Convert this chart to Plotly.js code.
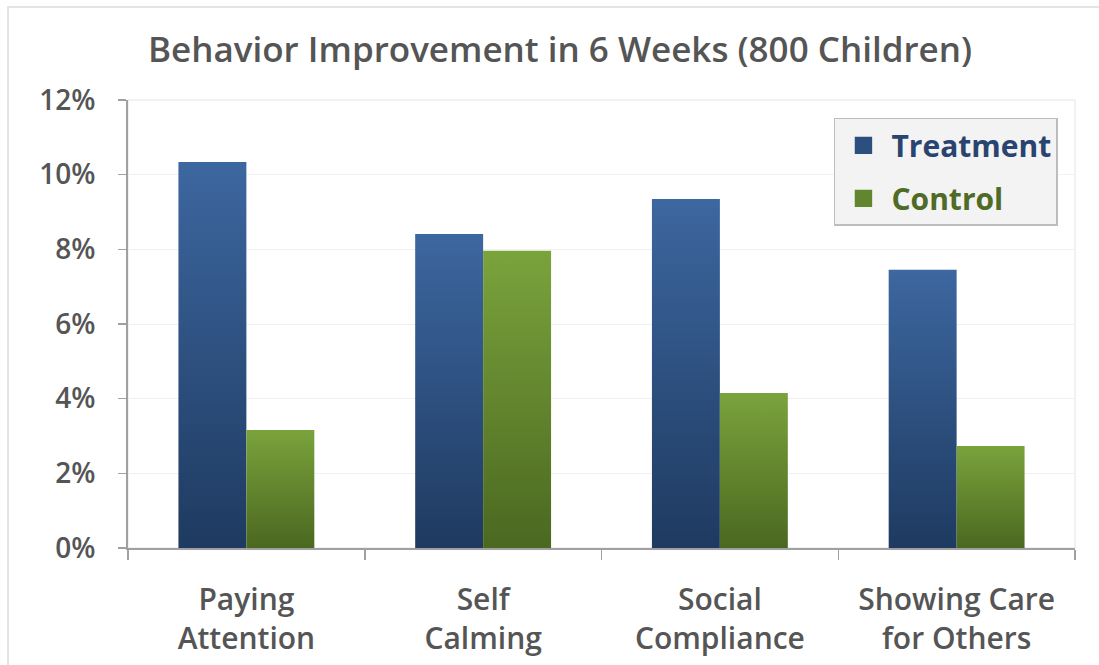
<!DOCTYPE html>
<html>
<head>
<meta charset="utf-8">
<script src="https://cdn.plot.ly/plotly-3.0.1.min.js"></script>
<style>html,body{margin:0;padding:0;background:#fff;}#chart{width:1099px;height:665px;}</style>
</head>
<body>
<div id="chart"></div>
<script>
const categories = ["Paying<br>Attention", "Self<br>Calming", "Social<br>Compliance", "Showing Care<br>for Others"];
const seriesNames = ["Treatment", "Control"];
const treatmentValues = [0.1034, 0.0841, 0.0935, 0.0745];
const controlValues = [0.0316, 0.0796, 0.0415, 0.0273];
const yTickValues = [0, 0.02, 0.04, 0.06, 0.08, 0.10, 0.12];

const baseColors = ["#2c4f80", "#62862e"];
const textColors = ["#2a4470", "#4f6b25"];
const gradStops = [["#3d67a0", "#1e3a60"], ["#7aa33c", "#4b6820"]];

const font = "'Open Sans', 'DejaVu Sans', sans-serif";

const seriesValues = [treatmentValues, controlValues];
const traces = seriesValues.map((vals, i) => ({
  type: "bar",
  x: categories,
  y: vals,
  name: '<span style="color:' + textColors[i] + '">' + seriesNames[i] + '</span>',
  legendgroup: "g" + i,
  marker: { color: baseColors[i], line: { width: 0 } },
  hoverinfo: "none"
}));

const layout = {
  width: 1099, height: 665,
  paper_bgcolor: "#ffffff", plot_bgcolor: "#ffffff",
  margin: { l: 128, r: 24, t: 100, b: 117 },
  barmode: "group",
  bargap: 0.426, bargroupgap: 0,
  title: {
    text: "Behavior Improvement in 6 Weeks (800 Children)",
    font: { family: font, size: 35, color: "#555555", weight: 600 },
    x: 0.5096, xref: "container", xanchor: "center",
    y: 0.925, yref: "container", yanchor: "middle"
  },
  xaxis: {
    type: "category",
    showline: true, linecolor: "#a0a0a0", linewidth: 2,
    ticks: "outside", tickson: "boundaries", ticklen: 10, tickcolor: "#a0a0a0", tickwidth: 1.5,
    tickfont: { family: font, size: 30, color: "#555555", weight: 600 },
    ticklabelstandoff: 24,
    showgrid: false, zeroline: false, fixedrange: true
  },
  yaxis: {
    range: [0, 0.12],
    tickvals: yTickValues, tickformat: ".0%",
    showline: true, linecolor: "#a0a0a0", linewidth: 2,
    ticks: "outside", ticklen: 8, tickcolor: "#a0a0a0", tickwidth: 1.5,
    tickfont: { family: font, size: 28, color: "#555555", weight: 600 },
    ticklabelstandoff: 17,
    showgrid: true, gridcolor: "#f1f1f1", gridwidth: 1,
    zeroline: false, fixedrange: true
  },
  legend: {
    x: 0.982, xanchor: "right", y: 0.96, yanchor: "top",
    bgcolor: "#f3f3f3", bordercolor: "#bdbdbd", borderwidth: 1.5,
    font: { family: font, size: 30, weight: 700, color: "#333" },
    traceorder: "grouped", tracegroupgap: 11,
    itemwidth: 46
  },
  shapes: [
    { type: "rect", xref: "paper", yref: "paper", x0: 0, x1: 1, y0: 0, y1: 1,
      line: { color: "#e4e4e4", width: 1 }, layer: "below" },
    { type: "path", xref: "paper", yref: "paper",
      path: "M -0.1267,-0.27 L -0.1267,1.2076 L 1.03,1.2076",
      line: { color: "#dcdcdc", width: 1.5 } }
  ],
  showlegend: true
};

Plotly.newPlot("chart", traces, layout, { staticPlot: true, displayModeBar: false }).then(gd => {
  const svg = gd.querySelector("svg.main-svg");
  const NS = "http://www.w3.org/2000/svg";
  let defs = svg.querySelector("defs");
  if (!defs) { defs = document.createElementNS(NS, "defs"); svg.insertBefore(defs, svg.firstChild); }
  gradStops.forEach((stops, i) => {
    const g = document.createElementNS(NS, "linearGradient");
    g.setAttribute("id", "barGrad" + i);
    g.setAttribute("x1", "0"); g.setAttribute("y1", "0");
    g.setAttribute("x2", "0"); g.setAttribute("y2", "1");
    [[0, stops[0]], [1, stops[1]]].forEach(([off, col]) => {
      const s = document.createElementNS(NS, "stop");
      s.setAttribute("offset", off);
      s.setAttribute("stop-color", col);
      g.appendChild(s);
    });
    defs.appendChild(g);
  });
  gd.querySelectorAll(".barlayer .trace").forEach((tr, i) => {
    tr.querySelectorAll("path").forEach(p => { p.style.fill = "url(#barGrad" + i + ")"; });
  });
  gd.querySelectorAll(".legend .legendpoints path").forEach(p => {
    const t = p.getAttribute("transform") || "";
    p.setAttribute("transform", t + " scale(1.45)");
  });
});
</script>
</body>
</html>
